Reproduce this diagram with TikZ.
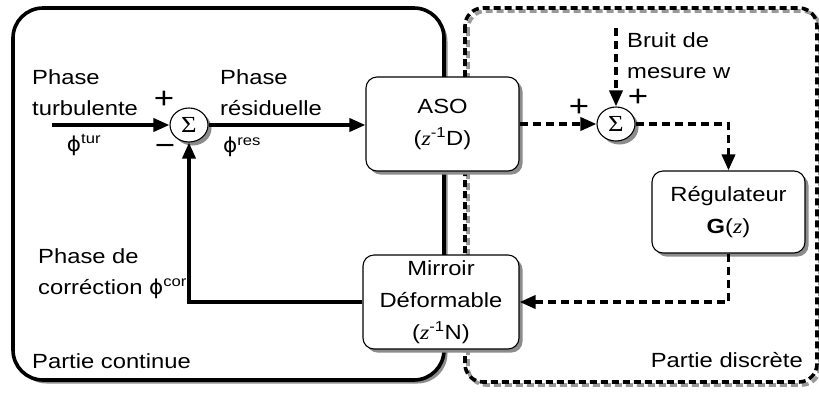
\documentclass[tikz,border=0pt]{standalone}
\usepackage{fontspec}
\setmainfont{Liberation Sans}[FakeStretch=1.16]
\newfontfamily\sigfont{Liberation Serif}[FakeStretch=1.16]
\newfontfamily\phifont{DejaVu Sans}[FakeStretch=1.05]
\usetikzlibrary{arrows.meta,shapes.geometric,shadows}
\newcommand\zv{{\sigfont\itshape z}}
\newcommand\phiv{{\phifont ϕ}}
\tikzset{
  txt/.style={font=\fontsize{20.5}{31}\selectfont, inner sep=0pt},
  sgn/.style={font=\fontsize{30}{30}\selectfont, inner sep=0pt},
  shd/.style={drop shadow={shadow xshift=3.5pt, shadow yshift=-3.5pt, fill=black!45, opacity=1}},
  blk/.style={draw, line width=1.1pt, rounded corners=11pt, fill=white, align=center,
    inner sep=0pt, font=\fontsize{20.5}{32}\selectfont, shd},
  sumn/.style={ellipse, draw, line width=1.1pt, fill=white, minimum width=38pt,
    minimum height=34pt, inner sep=0pt, shd, font=\sigfont\fontsize{23}{23}\selectfont},
  conn/.style={line width=3.6pt, -{Triangle[length=16pt,width=13pt]}},
  dsh/.style={dash pattern=on 8pt off 5pt},
}
\begin{document}
\begin{tikzpicture}[x=1pt,y=-1pt]
\useasboundingbox (0,0) rectangle (819,392);
% outer regions
\draw[line width=3.6pt, rounded corners=30pt, fill=white, shd] (13,8) rectangle (444,380);
\draw[line width=3.6pt, black!40, dash pattern=on 7pt off 4pt, rounded corners=18pt] (468,11) rectangle (820,385);
\draw[line width=3.6pt, dash pattern=on 7pt off 4pt, rounded corners=18pt] (465,8) rectangle (817,382);
% blocks
\node[blk, minimum width=153pt, minimum height=94pt] (aso) at (442.5,124) {ASO\\(\zv\textsuperscript{-1}D)};
\node[blk, minimum width=156pt, minimum height=94pt] (mir) at (441,302) {Mirroir\\Déformable\\(\zv\textsuperscript{-1}N)};
\node[blk, minimum width=153pt, minimum height=82pt] (reg) at (728.5,212) {Régulateur\\\textbf{G}(\zv)};
\node[sumn] (s1) at (189,125) {Σ};
\node[sumn] (s2) at (616,124) {Σ};
% connectors
\coordinate (tin) at (52,125);
\coordinate (bin) at (616,28);
\draw[conn] (tin) -- (s1.west);
\draw[conn] (s1.east) -- (s1.east -| aso.west);
\draw[conn,dsh] (aso.east) -- (s2.west);
\draw[conn,dsh] (bin) -- (s2.north);
\draw[conn,dsh] (s2.east) -| (reg.north);
\draw[conn,dsh] (reg.south) |- (mir.east);
\draw[conn] (mir.west) -| (s1.south);
% labels
\node[txt, anchor=north west, align=left] (lturb) at (32,69) {Phase\\turbulente};
\node[txt] (ptur) at (84,145) {\phiv\textsuperscript{tur}};
\node[txt, anchor=north west, align=left] (lres) at (220,69) {Phase\\résiduelle};
\node[txt] (pres) at (242,147) {\phiv\textsuperscript{res}};
\node[sgn] (p1) at (164,100) {+};
\node[sgn] (m1) at (165,150) {−};
\node[txt, anchor=north west, align=left] (lbruit) at (627,32) {Bruit de\\mesure w};
\node[sgn] (p2) at (579,108) {+};
\node[sgn] (p3) at (638,98) {+};
\node[txt, anchor=north west, align=left] (lcor) at (38,248) {Phase de\\corréction \phiv\textsuperscript{cor}};
\node[txt, anchor=base west] (lcont) at (32,368) {Partie continue};
\node[txt, anchor=base east] (ldisc) at (803,367) {Partie discrète};
\end{tikzpicture}
\end{document}
